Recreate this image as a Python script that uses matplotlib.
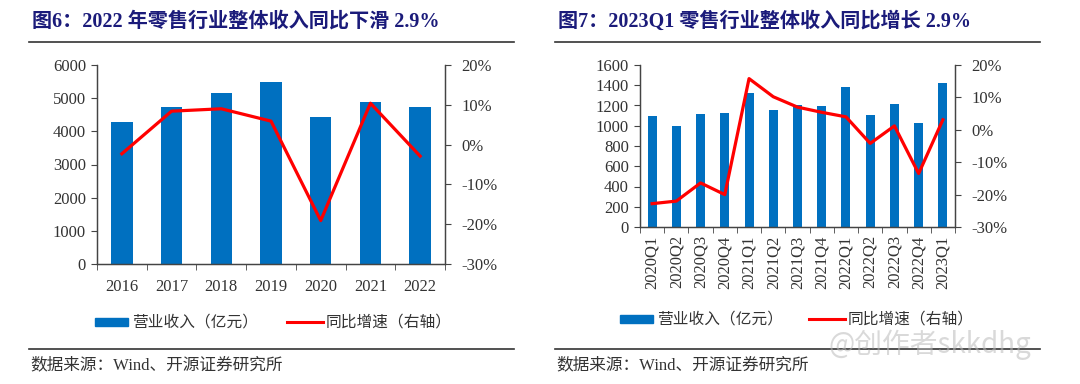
import matplotlib
matplotlib.use("Agg")
import matplotlib.pyplot as plt
from matplotlib.lines import Line2D
from matplotlib.patches import Rectangle
import numpy as np

# ---- data ----
years = ["2016", "2017", "2018", "2019", "2020", "2021", "2022"]
rev_year = [4280, 4735, 5165, 5475, 4430, 4885, 4745]
yoy_year = [-2.3, 8.4, 9.0, 5.9, -19.1, 10.4, -2.9]

quarters = ["2020Q1", "2020Q2", "2020Q3", "2020Q4", "2021Q1", "2021Q2", "2021Q3",
            "2021Q4", "2022Q1", "2022Q2", "2022Q3", "2022Q4", "2023Q1"]
rev_q = [1092, 993, 1115, 1128, 1327, 1155, 1203, 1191, 1380, 1102, 1211, 1030, 1422]
yoy_q = [-22.8, -22.0, -16.4, -20.0, 15.8, 10.2, 7.0, 5.4, 4.0, -4.2, 1.2, -13.5, 3.1]

title_left = "图6：2022 年零售行业整体收入同比下滑 2.9%"
title_right = "图7：2023Q1 零售行业整体收入同比增长 2.9%"
legend_bar = "营业收入（亿元）"
legend_line = "同比增速（右轴）"
source = "数据来源：Wind、开源证券研究所"
pct_ticks = [-30, -20, -10, 0, 10, 20]

BLUE = "#0070C0"
RED = "#FF0000"
NAVY = "#1B1B7A"
TXT = "#333333"
SERIF = ["Liberation Serif", "Noto Sans CJK SC"]
CJK = ["Noto Sans CJK SC", "DejaVu Sans"]
TICK_FS = 12

W, H = 1080, 384
fig = plt.figure(figsize=(W / 100, H / 100), dpi=100)
fig.patch.set_facecolor("white")


def px_axes(l, t, r, b):
    return fig.add_axes([l / W, 1 - b / H, (r - l) / W, (b - t) / H])


def panel(l, t, r, b, cats, rev, yoy, ymax, ystep, barw, rot, xpad):
    ax = px_axes(l, t, r, b)
    x = np.arange(len(cats))
    ax.bar(x, rev, width=barw, color=BLUE, zorder=2)
    ax.set_xlim(-0.5, len(cats) - 0.5)
    ax.set_ylim(0, ymax)
    ax.set_yticks(np.arange(0, ymax + 1, ystep))
    ax.set_yticklabels([str(int(v)) for v in np.arange(0, ymax + 1, ystep)],
                       family="Liberation Serif", fontsize=TICK_FS, color=TXT)
    ax.set_xticks(x)
    ax.set_xticklabels(cats, family="Liberation Serif", fontsize=TICK_FS, color=TXT,
                       rotation=rot)
    ax.set_xticks(np.arange(-0.5, len(cats)), minor=True)
    ax.tick_params(axis="x", which="major", length=0, pad=xpad)
    ax.tick_params(axis="x", which="minor", length=4, direction="out", color="#444444")
    ax.tick_params(axis="y", length=4, direction="out", pad=4, color="#444444")
    ax.spines["top"].set_visible(False)
    for s in ["left", "bottom", "right"]:
        ax.spines[s].set_color("#444444")
        ax.spines[s].set_linewidth(0.9)

    ax2 = ax.twinx()
    ax2.plot(x, yoy, color=RED, lw=2.3, zorder=3)
    ax2.set_ylim(-30, 20)
    ax2.set_yticks(pct_ticks)
    ax2.set_yticklabels([f"{v}%" for v in pct_ticks], family="Liberation Serif",
                        fontsize=TICK_FS, color=TXT)
    ax2.tick_params(axis="y", length=4, direction="out", pad=8, color="#444444")
    ax2.spines["top"].set_visible(False)
    for s in ["left", "bottom", "right"]:
        ax2.spines[s].set_color("#444444")
        ax2.spines[s].set_linewidth(0.9)
    return ax


panel(97, 65, 445, 264, years, rev_year, yoy_year, 6000, 1000, 0.43, 0, 11)
panel(640, 65, 955, 227, quarters, rev_q, yoy_q, 1600, 200, 0.37, 90, 6)


def fy(y):
    return 1 - y / H


def fx(x):
    return x / W


def header_footer(x0, x1, title, leg_y, bar_x, line_x):
    fig.text(fx(x0 + 3), fy(22), title, family=SERIF, fontsize=14.5,
             fontweight="bold", color=NAVY, va="center", ha="left")
    fig.add_artist(Line2D([fx(x0), fx(x1)], [fy(42), fy(42)], color="#333333", lw=1.2))
    fig.add_artist(Rectangle((fx(bar_x), fy(leg_y + 4)), 33 / W, 8 / H,
                             color=BLUE, transform=fig.transFigure))
    fig.text(fx(bar_x + 37), fy(leg_y), legend_bar, family=CJK, fontsize=11.3,
             color=TXT, va="center", ha="left")
    fig.add_artist(Line2D([fx(line_x), fx(line_x + 36)], [fy(leg_y), fy(leg_y)],
                          color=RED, lw=2.2))
    fig.text(fx(line_x + 39), fy(leg_y), legend_line, family=CJK, fontsize=11.3,
             color=TXT, va="center", ha="left")
    fig.add_artist(Line2D([fx(x0), fx(x1)], [fy(349), fy(349)], color="#333333", lw=1.2))
    fig.text(fx(x0 + 1), fy(365), source, family=SERIF, fontsize=12,
             color=TXT, va="center", ha="left")


header_footer(29, 514, title_left, 322, 95, 287)
header_footer(555, 1040, title_right, 319, 620, 809)

fig.text(fx(828), fy(345), "@创作者skkdhg", family=CJK, fontsize=20,
         color="#BBBBBB", alpha=0.55, va="center", ha="left")

fig.savefig("out.png", dpi=100, facecolor="white")
